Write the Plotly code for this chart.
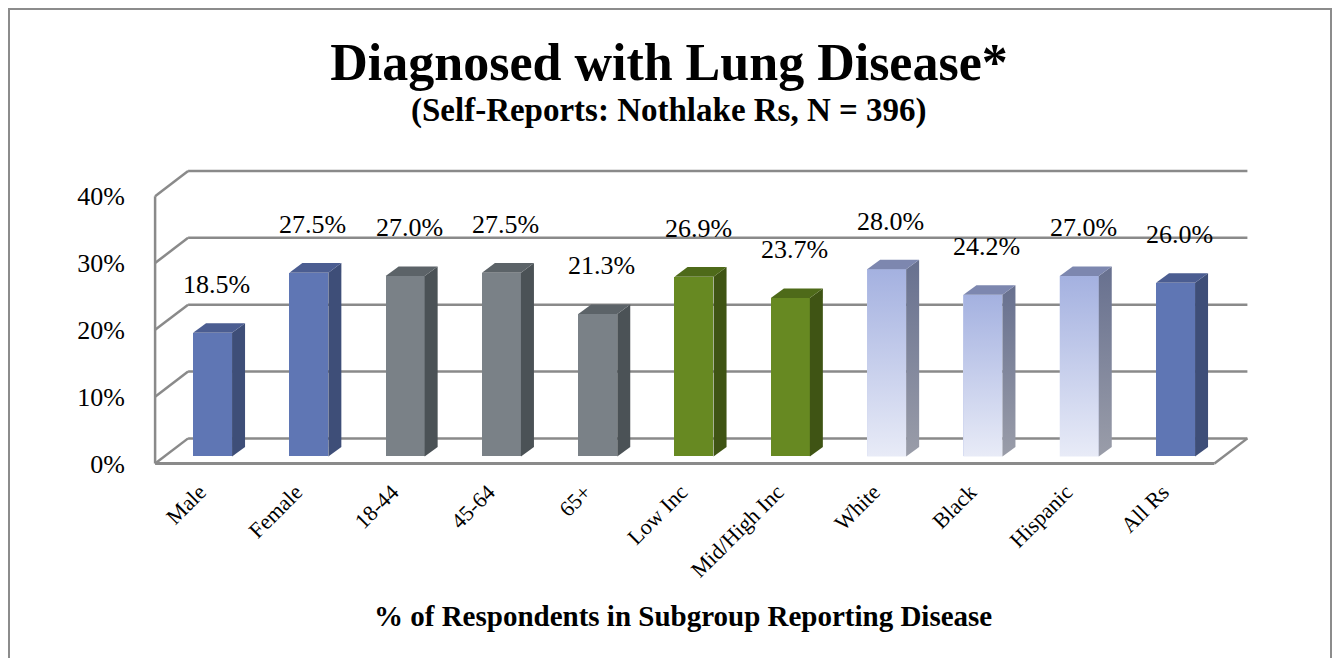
import plotly.graph_objects as go

# ---------------- data ----------------
categories = ["Male", "Female", "18-44", "45-64", "65+", "Low Inc",
              "Mid/High Inc", "White", "Black", "Hispanic", "All Rs"]
values = [18.5, 27.5, 27.0, 27.5, 21.3, 26.9, 23.7, 28.0, 24.2, 27.0, 26.0]
groups = ["Sex", "Sex", "Age", "Age", "Age", "Income", "Income",
          "Race", "Race", "Race", "All"]
y_ticks = [0, 10, 20, 30, 40]
y_tick_labels = ["0%", "10%", "20%", "30%", "40%"]

title_text = "Diagnosed with Lung Disease*"
subtitle_text = "(Self-Reports: Nothlake Rs, N = 396)"
xaxis_title = "% of Respondents in Subgroup Reporting Disease"

# ---------------- style ----------------
OFF = 8              # page margin around the figure, compensated below
SY = 666 / 682       # observed vertical scaling of the captured page
W, H = 1340 - 2 * OFF, 666 - 2 * OFF
FONT = "Liberation Serif"
# face colours per group: (front, side, top)
colors = {
    "Sex":    ("#5F76B4", "#3E4E78", "#4B5D91"),
    "All":    ("#5F76B4", "#3E4E78", "#4B5D91"),
    "Age":    ("#7A8187", "#4B5256", "#5C6368"),
    "Income": ("#678922", "#3F5414", "#4E6A19"),
    "Race":   ("#C6CEEC", "#7D84A0", "#7D87AF"),
}
race_front_grad = [[0, "#E8EBF7"], [1, "#A4B1E0"]]
race_side_grad = [[0, "#9A9DA9"], [1, "#67708F"]]

# target pixel geometry of the bar plane
PX0 = 164.4          # pixel of x=-0.5
PXC = 96.3           # pixels per category
PY0 = 454.0          # pixel of y=0
PYU = 6.65           # pixels per percent
XR = [-0.7, 10.8]
YR = [-1.5, 43.0]


def xpx(x):
    return PX0 + (x + 0.5) * PXC


def ypx(y):
    return PY0 - y * PYU


def px_to_paper_x(p):
    return (p - OFF) / W


def px_to_paper_y(p):
    return 1 - (p / SY - OFF) / H


x_dom = [px_to_paper_x(xpx(XR[0])), px_to_paper_x(xpx(XR[1]))]
y_dom = [px_to_paper_y(ypx(YR[0])), px_to_paper_y(ypx(YR[1]))]

# 3D offsets (data units)
FRONT_DX, FRONT_DY = -9.3 / PXC, -7.0 / PYU
BACK_DX, BACK_DY = 23.7 / PXC, 18.0 / PYU
LABEL_DX = -13.0 / PXC
BAR_W = 0.405
HW = BAR_W / 2
BAR_DX, BAR_DY = 13.0 / PXC, 9.5 / PYU

GRID = "#8A8A8A"
n = len(categories)
xs = list(range(n))
xl, xr = -0.5, n - 0.5

fig = go.Figure()

# front faces
fig.add_trace(go.Bar(
    x=xs, y=values, width=BAR_W,
    marker=dict(color=[colors[g][0] for g in groups], line=dict(width=0)),
    hoverinfo="skip", showlegend=False,
))

# side and top faces
for i, (v, g) in enumerate(zip(values, groups)):
    side_x = [i + HW, i + HW + BAR_DX, i + HW + BAR_DX, i + HW, i + HW]
    side_y = [0, BAR_DY, v + BAR_DY, v, 0]
    top_x = [i - HW, i + HW, i + HW + BAR_DX, i - HW + BAR_DX, i - HW]
    top_y = [v, v, v + BAR_DY, v + BAR_DY, v]
    if g == "Race":
        fig.add_trace(go.Scatter(
            x=[i - HW, i + HW, i + HW, i - HW, i - HW], y=[0, 0, v, v, 0],
            mode="lines", line=dict(width=0), fill="toself",
            fillgradient=dict(type="vertical", colorscale=race_front_grad),
            hoverinfo="skip", showlegend=False))
        fig.add_trace(go.Scatter(
            x=side_x, y=side_y, mode="lines", line=dict(width=0), fill="toself",
            fillgradient=dict(type="vertical", colorscale=race_side_grad),
            hoverinfo="skip", showlegend=False))
    else:
        fig.add_trace(go.Scatter(
            x=side_x, y=side_y, mode="lines", line=dict(width=0), fill="toself",
            fillcolor=colors[g][1], hoverinfo="skip", showlegend=False))
    fig.add_trace(go.Scatter(
        x=top_x, y=top_y, mode="lines", line=dict(width=0), fill="toself",
        fillcolor=colors[g][2], hoverinfo="skip", showlegend=False))

# walls, floor and gridlines
shapes = []
for t in y_ticks:
    shapes.append(dict(type="line", xref="x", yref="y", layer="below",
                       x0=xl + BACK_DX, y0=t + BACK_DY, x1=xr + BACK_DX, y1=t + BACK_DY,
                       line=dict(color=GRID, width=2.5)))
    shapes.append(dict(type="line", xref="x", yref="y", layer="below",
                       x0=xl + FRONT_DX, y0=t + FRONT_DY, x1=xl + BACK_DX, y1=t + BACK_DY,
                       line=dict(color=GRID, width=2.5)))
shapes.append(dict(type="line", xref="x", yref="y", layer="below",
                   x0=xl + FRONT_DX, y0=y_ticks[0] + FRONT_DY,
                   x1=xl + FRONT_DX, y1=y_ticks[-1] + FRONT_DY,
                   line=dict(color=GRID, width=2.5)))
shapes.append(dict(type="line", xref="x", yref="y", layer="below",
                   x0=xl + FRONT_DX, y0=FRONT_DY, x1=xr + FRONT_DX, y1=FRONT_DY,
                   line=dict(color=GRID, width=3.2)))
shapes.append(dict(type="line", xref="x", yref="y", layer="below",
                   x0=xr + FRONT_DX, y0=FRONT_DY, x1=xr + BACK_DX, y1=BACK_DY,
                   line=dict(color=GRID, width=2.5)))
# outer border
shapes.append(dict(type="rect", xref="paper", yref="paper",
                   x0=1 / W, y0=-0.05, x1=1 - 1 / W, y1=1 - 1 / H,
                   line=dict(color="#8C8C8C", width=2)))

# data labels
annotations = []
for i, v in enumerate(values):
    annotations.append(dict(x=i, y=v, xref="x", yref="y", text=f"{v:.1f}%",
                            showarrow=False, yshift=47 / SY, xshift=4,
                            font=dict(family=FONT, size=26, color="black")))
annotations.append(dict(x=px_to_paper_x(669), y=px_to_paper_y(110), xref="paper", yref="paper",
                        text=f"<b>{subtitle_text}</b>", showarrow=False,
                        xanchor="center", yanchor="middle",
                        font=dict(family=FONT, size=33, color="black")))
annotations.append(dict(x=px_to_paper_x(683), y=px_to_paper_y(613), xref="paper", yref="paper",
                        text=f"<b>{xaxis_title}</b>", showarrow=False,
                        xanchor="center", yanchor="middle",
                        font=dict(family=FONT, size=29, color="black")))

fig.update_layout(
    width=W, height=H,
    margin=dict(l=0, r=0, t=0, b=0),
    paper_bgcolor="white", plot_bgcolor="rgba(0,0,0,0)",
    title=dict(text=f"<b>{title_text}</b>", x=px_to_paper_x(669), xanchor="center",
               y=px_to_paper_y(60), yanchor="middle",
               font=dict(family=FONT, size=52, color="black")),
    xaxis=dict(domain=x_dom, range=XR, tickvals=[i + LABEL_DX for i in xs],
               ticktext=categories,
               tickangle=-45, showgrid=False, zeroline=False, showline=False,
               ticks="outside", ticklen=3, tickcolor="rgba(0,0,0,0)",
               tickfont=dict(family=FONT, size=22, color="black")),
    yaxis=dict(domain=y_dom, range=YR,
               tickvals=[t + FRONT_DY for t in y_ticks], ticktext=y_tick_labels,
               showgrid=False, zeroline=False, showline=False,
               ticks="outside", ticklen=14, tickcolor="rgba(0,0,0,0)",
               tickfont=dict(family=FONT, size=26, color="black")),
    shapes=shapes, annotations=annotations,
    bargap=0, showlegend=False,
)

fig.write_html("out.html")
